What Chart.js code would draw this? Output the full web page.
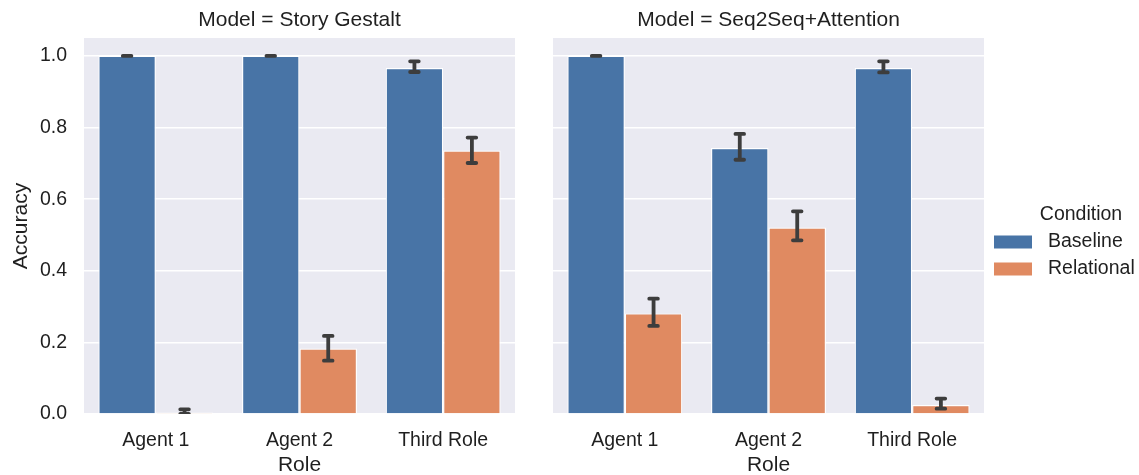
<!DOCTYPE html>
<html>
<head>
<meta charset="utf-8">
<script src="https://cdn.jsdelivr.net/npm/chart.js@4"></script>
<style>
  html, body { margin: 0; padding: 0; background: #ffffff; }
  #wrap { position: relative; width: 1139px; height: 475px; overflow: hidden; }
  canvas { position: absolute; top: 0; }
</style>
</head>
<body>
<div id="wrap">
  <canvas id="panelStory" width="530" height="475" style="left:0px"></canvas>
  <canvas id="panelSeq" width="609" height="475" style="left:530px"></canvas>
</div>
<script>
// Categories and legend entries
const roles = ['Agent 1', 'Agent 2', 'Third Role'];
const conditions = ['Baseline', 'Relational'];
const models = ['Story Gestalt', 'Seq2Seq+Attention'];
const yTicks = [0, 0.2, 0.4, 0.6, 0.8, 1.0];

// Mean accuracy and 95% CI bounds, Story Gestalt
const storyBaseline     = [1.000, 1.000, 0.966];
const storyBaselineLow  = [1.000, 1.000, 0.955];
const storyBaselineHigh = [1.000, 1.000, 0.985];
const storyRelational     = [0.004, 0.183, 0.736];
const storyRelationalLow  = [0.000, 0.149, 0.701];
const storyRelationalHigh = [0.013, 0.218, 0.772];

// Mean accuracy and 95% CI bounds, Seq2Seq+Attention
const seqBaseline     = [1.000, 0.743, 0.966];
const seqBaselineLow  = [1.000, 0.710, 0.954];
const seqBaselineHigh = [1.000, 0.782, 0.985];
const seqRelational     = [0.281, 0.521, 0.025];
const seqRelationalLow  = [0.246, 0.485, 0.015];
const seqRelationalHigh = [0.322, 0.566, 0.043];

const COLORS = { Baseline: '#4874A6', Relational: '#E08A61' };
const FONT = '"Liberation Sans", Arial, Helvetica, sans-serif';
const TEXT = '#1f1f1f';
const PANEL_BG = '#EAEAF2';
const TICK_SIZE = 19.5;
const LABEL_SIZE = 21;

// Shaded plotting area behind grid and bars
const panelBackground = {
  id: 'panelBackground',
  beforeDraw(chart) {
    const a = chart.chartArea, ctx = chart.ctx;
    ctx.save();
    ctx.fillStyle = PANEL_BG;
    ctx.fillRect(a.left, a.top, a.right - a.left, a.bottom - a.top);
    ctx.restore();
  }
};

// Confidence-interval whiskers with caps on every bar
const errorBars = {
  id: 'errorBars',
  afterDatasetsDraw(chart) {
    const ctx = chart.ctx, y = chart.scales.y, a = chart.chartArea;
    ctx.save();
    ctx.beginPath();
    ctx.rect(a.left, a.top, a.right - a.left, a.bottom - a.top);
    ctx.clip();
    ctx.strokeStyle = '#3D3D3D';
    ctx.lineWidth = 3.8;
    ctx.lineCap = 'round';
    chart.data.datasets.forEach((ds, di) => {
      chart.getDatasetMeta(di).data.forEach((bar, i) => {
        const lo = y.getPixelForValue(ds.ciLow[i]);
        const hi = y.getPixelForValue(ds.ciHigh[i]);
        const x = bar.x, c = 4.3;
        ctx.beginPath();
        ctx.moveTo(x, lo); ctx.lineTo(x, hi);
        ctx.moveTo(x - c, lo); ctx.lineTo(x + c, lo);
        ctx.moveTo(x - c, hi); ctx.lineTo(x + c, hi);
        ctx.stroke();
      });
    });
    ctx.restore();
  }
};

// Facet header centred over the plotting area
const facetTitle = {
  id: 'facetTitle',
  afterDraw(chart, args, opts) {
    const a = chart.chartArea, ctx = chart.ctx;
    ctx.save();
    ctx.fillStyle = TEXT;
    ctx.font = LABEL_SIZE + 'px ' + FONT;
    ctx.textAlign = 'center';
    ctx.textBaseline = 'middle';
    ctx.fillText(opts.text, (a.left + a.right) / 2, 20);
    ctx.restore();
  }
};

// Condition legend placed to the right of the second facet
const sideLegend = {
  id: 'sideLegend',
  afterDraw(chart, args, opts) {
    if (!opts.show) return;
    const ctx = chart.ctx;
    const x0 = opts.x;
    ctx.save();
    ctx.fillStyle = TEXT;
    ctx.font = '19.5px ' + FONT;
    ctx.textAlign = 'center';
    ctx.textBaseline = 'middle';
    ctx.fillText('Condition', x0 + 87, 215);
    ctx.textAlign = 'left';
    ctx.font = TICK_SIZE + 'px ' + FONT;
    conditions.forEach((name, k) => {
      const cy = 242 + k * 27;
      ctx.fillStyle = COLORS[name];
      ctx.fillRect(x0, cy - 6.5, 38, 13);
      ctx.fillStyle = TEXT;
      ctx.fillText(name, x0 + 54, cy);
    });
    ctx.restore();
  }
};

function makeChart(canvasId, modelName, baseVals, baseLow, baseHigh, relVals, relLow, relHigh, opts) {
  const ctx = document.getElementById(canvasId).getContext('2d');
  return new Chart(ctx, {
    type: 'bar',
    data: {
      labels: roles,
      datasets: [
        {
          label: conditions[0], data: baseVals, ciLow: baseLow, ciHigh: baseHigh,
          backgroundColor: COLORS.Baseline, borderColor: '#ffffff', borderWidth: 1.2,
          categoryPercentage: 0.8, barPercentage: 1.0
        },
        {
          label: conditions[1], data: relVals, ciLow: relLow, ciHigh: relHigh,
          backgroundColor: COLORS.Relational, borderColor: '#ffffff', borderWidth: 1.2,
          categoryPercentage: 0.8, barPercentage: 1.0
        }
      ]
    },
    options: {
      responsive: false,
      animation: false,
      devicePixelRatio: 1,
      layout: { padding: { top: 38, right: opts.padRight, left: 0, bottom: 0 } },
      plugins: {
        legend: { display: false },
        tooltip: { enabled: false },
        facetTitle: { text: 'Model = ' + modelName },
        sideLegend: { show: opts.legend, x: opts.legendX }
      },
      scales: {
        x: {
          grid: { display: false, drawTicks: false },
          border: { display: false },
          ticks: { color: TEXT, font: { family: FONT, size: TICK_SIZE }, padding: 15 },
          title: { display: true, text: 'Role', color: TEXT,
                   font: { family: FONT, size: LABEL_SIZE }, padding: { top: 0, bottom: -3 } },
          afterFit(scale) { scale.height = 61; }
        },
        y: {
          min: 0, max: 1.05,
          afterBuildTicks(scale) { scale.ticks = yTicks.map(v => ({ value: v })); },
          grid: { color: '#ffffff', lineWidth: 1.6, drawTicks: false },
          border: { display: false },
          ticks: { display: opts.yLabels, color: TEXT, font: { family: FONT, size: TICK_SIZE },
                   padding: 17, callback: v => Number(v).toFixed(1) },
          title: { display: opts.yLabels, text: 'Accuracy', color: TEXT,
                   font: { family: FONT, size: LABEL_SIZE }, padding: { top: 9, bottom: 0 } },
          afterFit(scale) { scale.width = opts.yWidth; }
        }
      }
    },
    plugins: [panelBackground, errorBars, facetTitle, sideLegend]
  });
}

makeChart('panelStory', models[0],
  storyBaseline, storyBaselineLow, storyBaselineHigh,
  storyRelational, storyRelationalLow, storyRelationalHigh,
  { padRight: 15, yWidth: 84, yLabels: true, legend: false, legendX: 0 });

makeChart('panelSeq', models[1],
  seqBaseline, seqBaselineLow, seqBaselineHigh,
  seqRelational, seqRelationalLow, seqRelationalHigh,
  { padRight: 155, yWidth: 23, yLabels: false, legend: true, legendX: 464 });
</script>
</body>
</html>
